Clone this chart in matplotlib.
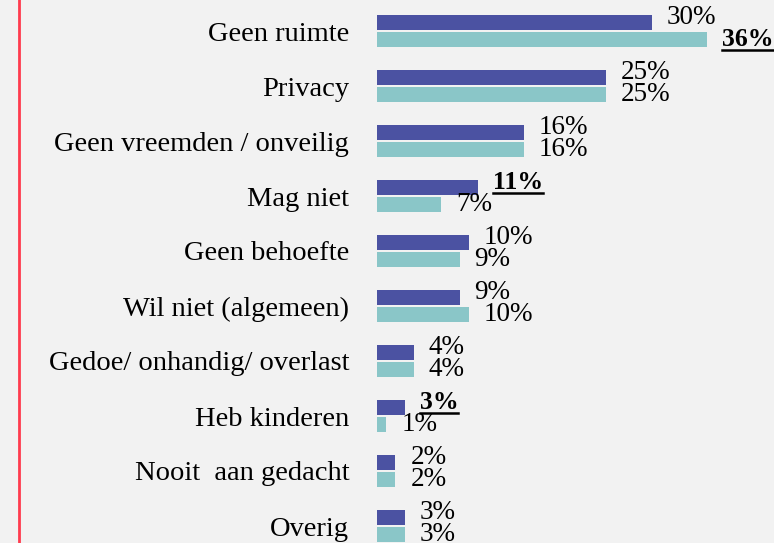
import matplotlib
matplotlib.use('Agg')
import matplotlib.pyplot as plt
from matplotlib.lines import Line2D

categories = [
    'Geen ruimte',
    'Privacy',
    'Geen vreemden / onveilig',
    'Mag niet',
    'Geen behoefte',
    'Wil niet (algemeen)',
    'Gedoe/ onhandig/ overlast',
    'Heb kinderen',
    'Nooit  aan gedacht',
    'Overig',
]
series_a = [30, 25, 16, 11, 10, 9, 4, 3, 2, 3]
series_b = [36, 25, 16, 7, 9, 10, 4, 1, 2, 3]
# labels shown bold + underlined: (series index, category index)
highlight = [(1, 0), (0, 3), (0, 7)]

col_a = '#4B52A2'
col_b = '#8AC6C8'
bg = '#F2F2F2'

plt.rcParams['font.family'] = ['Liberation Serif', 'DejaVu Serif']

W, H = 774, 543
fig = plt.figure(figsize=(W / 100, H / 100), dpi=100, facecolor=bg)
x0 = 377
px_per = 9.17
ax = fig.add_axes([x0 / W, 0, (W - x0) / W, 1])
ax.set_facecolor(bg)
ax.set_xlim(0, (W - x0) / px_per)
row = 55.0
ax.set_ylim((H - 31) / row, -31 / row)

ys = list(range(len(categories)))
bh = 15 / row
off = 8.5 / row
ax.barh([y - off for y in ys], series_a, height=bh, color=col_a)
ax.barh([y + off for y in ys], series_b, height=bh, color=col_b)

ax.set_yticks(ys)
ax.set_yticklabels(categories, fontsize=20.5)
ax.tick_params(axis='y', length=0, pad=20)
ax.set_xticks([])
for s in ax.spines.values():
    s.set_visible(False)

texts = []
for si, (vals, sign, dy) in enumerate([(series_a, -1, 5), (series_b, 1, 0)]):
    for i, v in enumerate(vals):
        bold = (si, i) in highlight
        t = ax.annotate(f'{v}%', (v, i + sign * off), xytext=(15, dy),
                        textcoords='offset pixels', va='center', ha='left',
                        fontsize=18.5 if bold else 19.5,
                        fontweight='bold' if bold else 'normal',
                        annotation_clip=False)
        if bold:
            texts.append(t)

# red vertical rule at the left
fig.add_artist(Line2D([19 / W, 19 / W], [0, 1], color='#FF3B4E', lw=2))

fig.canvas.draw()
r = fig.canvas.get_renderer()
for t in texts:
    bb = t.get_window_extent(r)
    yl = (bb.y0 + 1) / H
    fig.add_artist(Line2D([bb.x0 / W, bb.x1 / W], [yl, yl], color='black', lw=1.8))

fig.savefig('out.png', dpi=100, facecolor=bg)
